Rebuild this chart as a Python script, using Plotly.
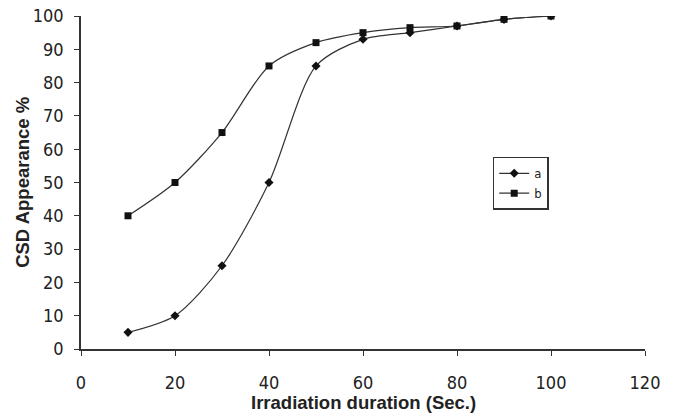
import plotly.graph_objects as go

x_vals = [10, 20, 30, 40, 50, 60, 70, 80, 90, 100]
a_vals = [5, 10, 25, 50, 85, 93, 95, 97, 99, 100]
b_vals = [40, 50, 65, 85, 92, 95, 96.5, 97, 99, 100]
x_ticks = [0, 20, 40, 60, 80, 100, 120]
y_ticks = [0, 10, 20, 30, 40, 50, 60, 70, 80, 90, 100]

tick_font = "DejaVu Sans Condensed, Liberation Sans Narrow, Liberation Sans, Arial"
title_font = "Liberation Sans, Arial"

fig = go.Figure()
fig.add_trace(go.Scatter(x=x_vals, y=a_vals, name="a", mode="lines+markers",
                         line=dict(color="#333333", width=1.2, shape="spline", smoothing=0.8),
                         marker=dict(symbol="diamond", size=7, color="#111111")))
fig.add_trace(go.Scatter(x=x_vals, y=b_vals, name="b", mode="lines+markers",
                         line=dict(color="#333333", width=1.2, shape="spline", smoothing=0.8),
                         marker=dict(symbol="square", size=7, color="#111111")))

fig.update_layout(
    width=673, height=416,
    margin=dict(l=81, r=28, t=16, b=67),
    paper_bgcolor="white", plot_bgcolor="white",
    font=dict(family=tick_font, size=18, color="#222222"),
    showlegend=True,
    legend=dict(x=0.73, y=0.577, xanchor="left", yanchor="top",
                bordercolor="#333333", borderwidth=1.5, bgcolor="white",
                font=dict(size=13), tracegroupgap=0, itemwidth=30),
    xaxis=dict(range=[0, 120], tickvals=x_ticks, showline=True, linecolor="#333333", linewidth=1.5,
               ticks="outside", ticklen=5, tickcolor="#333333", showgrid=False, zeroline=False,
               automargin=False, ticklabelstandoff=12, ticklabeloverflow="allow"),
    yaxis=dict(range=[0, 100], tickvals=y_ticks, showline=True, linecolor="#333333", linewidth=1.5,
               ticks="outside", ticklen=5, tickcolor="#333333", showgrid=False, zeroline=False,
               automargin=False, ticklabelstandoff=7, ticklabeloverflow="allow"),
    annotations=[
        dict(text="<b>Irradiation duration (Sec.)</b>", xref="paper", yref="paper",
             x=0.5, y=-0.16, xanchor="center", yanchor="middle", showarrow=False,
             font=dict(family=title_font, size=18.5)),
        dict(text="<b>CSD Appearance %</b>", xref="paper", yref="paper",
             x=-0.104, y=0.5, xanchor="center", yanchor="middle", showarrow=False,
             textangle=-90, font=dict(family=title_font, size=18.5)),
    ],
)

fig.write_html("out.html", config={"displayModeBar": False},
               post_script="document.body.style.margin='0px';")
